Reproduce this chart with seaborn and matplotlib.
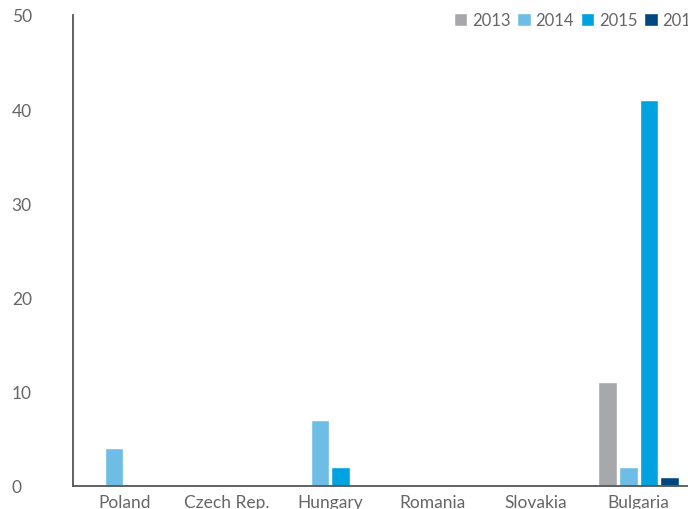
import pandas as pd
import seaborn as sns
import matplotlib.pyplot as plt
from matplotlib.ticker import FixedLocator

countries = ["Poland", "Czech Rep.", "Hungary", "Romania", "Slovakia", "Bulgaria"]
years = ["2013", "2014", "2015", "2016"]
v2013 = [0, 0, 0, 0, 0, 11]
v2014 = [4, 0, 7, 0, 0, 2]
v2015 = [0, 0, 2, 0, 0, 41]
v2016 = [0, 0, 0, 0, 0, 1]
colors = ["#a7a8ac", "#6dbde6", "#00a3e0", "#00467f"]

rows = []
for year, vals in zip(years, [v2013, v2014, v2015, v2016]):
    for c, v in zip(countries, vals):
        rows.append({"country": c, "year": year, "value": v})
df = pd.DataFrame(rows)

sns.set_style("white")
plt.rcParams["font.family"] = ["Lato", "DejaVu Sans"]

fig = plt.figure(figsize=(6.88, 5.10), dpi=100)
ax = fig.add_axes([73 / 688, 23 / 510, 617 / 688, 471 / 510])

sns.barplot(data=df, x="country", y="value", hue="year", order=countries,
            hue_order=years, palette=colors, width=0.8, gap=0.1,
            saturation=1, ax=ax)

ax.set_xlim(-0.5, 5.5)
ax.set_ylim(0, 50)
ax.set_xlabel("")
ax.set_ylabel("")
ax.set_yticks([0, 10, 20, 30, 40, 50])

gray = "#555555"
for s in ["top", "right"]:
    ax.spines[s].set_visible(False)
for s in ["left", "bottom"]:
    ax.spines[s].set_color(gray)
    ax.spines[s].set_linewidth(1.3)

ax.tick_params(axis="y", direction="in", length=16, width=1.3, color=gray,
               labelsize=12.5, labelcolor="#666666", pad=-2)
for lbl in ax.get_yticklabels():
    lbl.set_horizontalalignment("left")
    lbl.set_x(-64 / 617)
ax.tick_params(axis="x", which="major", length=0, labelsize=12.5,
               labelcolor="#666666", pad=6)
ax.xaxis.set_minor_locator(FixedLocator([0.5, 1.5, 2.5, 3.5, 4.5]))
ax.tick_params(axis="x", which="minor", direction="in", length=11, width=1.3,
               color=gray)

handles, labels = ax.get_legend_handles_labels()
ax.legend(handles, labels, ncol=4, loc="upper left",
          bbox_to_anchor=(374 / 617, 1.02), frameon=False,
          handlelength=0.8, handleheight=0.8, handletextpad=0.3,
          columnspacing=0.4, fontsize=12, labelcolor="#666666",
          borderaxespad=0)

fig.savefig("out.png", dpi=100)
